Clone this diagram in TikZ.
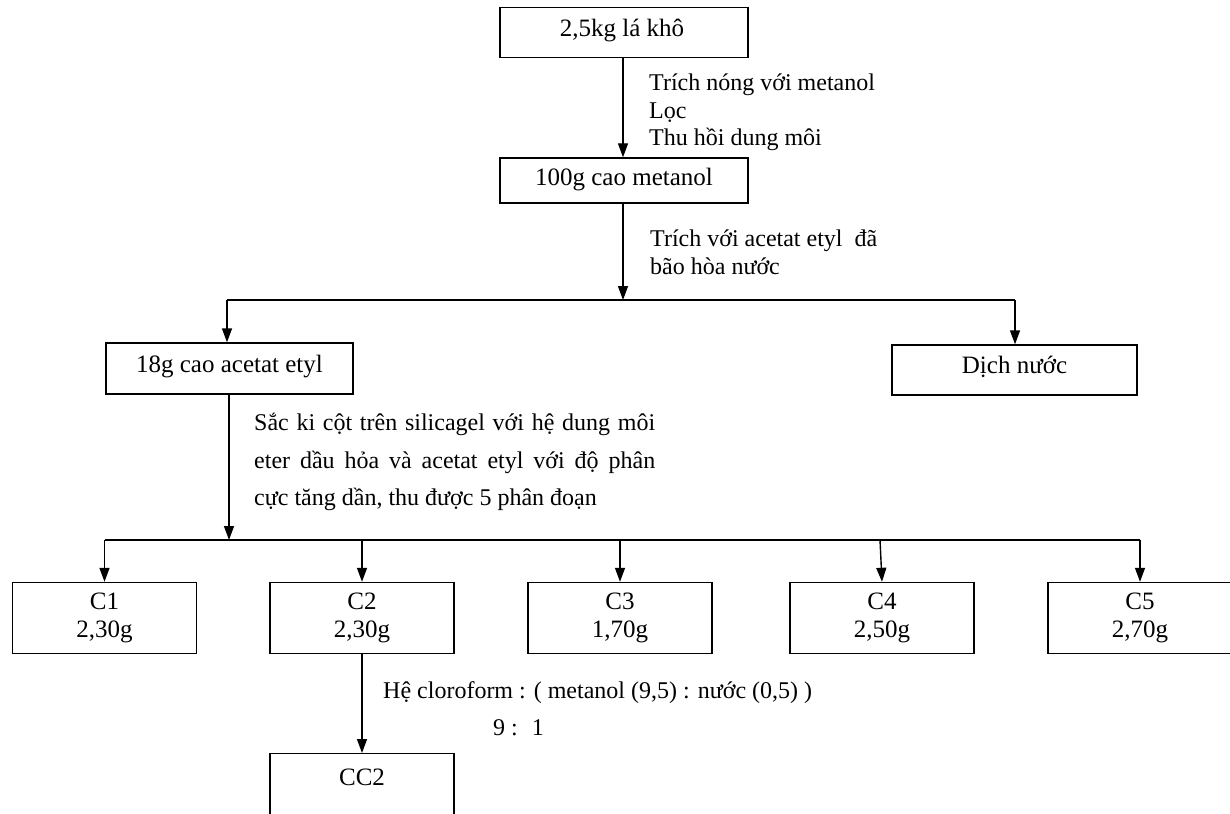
\documentclass[tikz,border=0pt]{standalone}
\usepackage{fontspec}
\setmainfont{Liberation Serif}
\usetikzlibrary{arrows.meta}
\tikzset{
  box/.style={draw, line width=1.4pt, minimum width=#1, inner sep=0pt},
  box/.default=248pt,
  arr/.style={line width=1.4pt, -{Triangle[width=10pt,length=14pt]}},
  ln/.style={line width=1.4pt},
  lbl/.style={anchor=west, inner sep=0pt, align=left, font=\fontsize{24}{27.5}\selectfont},
  txt/.style={inner sep=0pt, align=center, font=\fontsize{25}{28}\selectfont},
}
\begin{document}
\begin{tikzpicture}[x=1pt, y=-1pt]
\useasboundingbox (0,0) rectangle (1230,813);
\clip (0,0) rectangle (1230,813);
\fill[white] (0,0) rectangle (1230,813);

% boxes
\node[box=248pt, minimum height=50pt] (b1) at (624,32.5) {};
\node[txt] (t1) at (622,31) {2,5kg lá khô};
\node[box=248pt, minimum height=45pt] (b2) at (624,180.5) {};
\node[txt] (t2) at (624,180) {100g cao metanol};
\node[box=247pt, minimum height=51pt] (b3) at (229.5,368.5) {};
\node[txt] (t3) at (229.5,367) {18g cao acetat etyl};
\node[box=245pt, minimum height=50pt] (b4) at (1014.5,370) {};
\node[txt] (t4) at (1014.5,367) {Dịch nước};

\node[box=184pt, minimum height=71pt] (c1) at (104.5,618) {};
\node[txt] (tc1) at (104.5,618) {C1\\2,30g};
\node[box=184pt, minimum height=71pt] (c2) at (362,618) {};
\node[txt] (tc2) at (362,618) {C2\\2,30g};
\node[box=184pt, minimum height=71pt] (c3) at (620,618) {};
\node[txt] (tc3) at (620,618) {C3\\1,70g};
\node[box=184pt, minimum height=71pt] (c4) at (882,618) {};
\node[txt] (tc4) at (882,618) {C4\\2,50g};
\node[box=184pt, minimum height=71pt] (c5) at (1140,618) {};
\node[txt] (tc5) at (1140,618) {C5\\2,70g};

\node[box=184pt, minimum height=90pt, anchor=north] (cc2) at (362,753) {};
\node[txt] (tcc2) at (362,777) {CC2};

% labels
\node[lbl, anchor=north west] (l1) at (649,74) {Trích nóng với metanol\\Lọc\\Thu hồi dung môi};
\node[lbl, anchor=north west] (l2) at (650,230) {Trích với acetat etyl~ đã\\bão hòa nước};
\node[lbl, anchor=north west, font=\fontsize{24}{37.5}\selectfont] (l3) at (254,413)
  {\makebox[401pt][s]{Sắc ki cột trên silicagel với hệ dung môi}\\
   \makebox[401pt][s]{eter dầu hỏa và acetat etyl với độ phân}\\
   cực tăng dần, thu được 5 phân đoạn};
\node[lbl] (l4) at (383,693) {Hệ cloroform : ( metanol (9,5) : nước (0,5) )};
\node[lbl] (l5) at (493,728) {9 :~ 1};

% junctions
\coordinate (j1) at (623,300);
\coordinate (j1l) at (227,300);
\coordinate (j1r) at (1015,300);
\coordinate (j2) at (229,540);
\coordinate (j2l) at (104.5,540);
\coordinate (j2r) at (1140,540);
\coordinate (j4) at (880,540);
\coordinate (m1) at (623,0);

% connectors
\draw[arr] (b1.south -| m1) -- (b2.north -| m1);
\draw[arr] (b2.south -| j1) -- (j1);
\draw[ln] (j1l) -- (j1r);
\draw[arr] (j1l) -- (j1l |- b3.north);
\draw[arr] (j1r) -- (j1r |- b4.north);
\draw[arr] (b3.south -| j2) -- (j2);
\draw[ln] (j2l) -- (j2r);
\draw[arr] (j2l) -- (c1.north);
\draw[arr] (c2.north |- j2) -- (c2.north);
\draw[arr] (c3.north |- j2) -- (c3.north);
\draw[arr] (j4) -- (c4.north);
\draw[arr] (c5.north |- j2) -- (c5.north);
\draw[arr] (c2.south) -- (cc2.north);
\end{tikzpicture}
\end{document}
